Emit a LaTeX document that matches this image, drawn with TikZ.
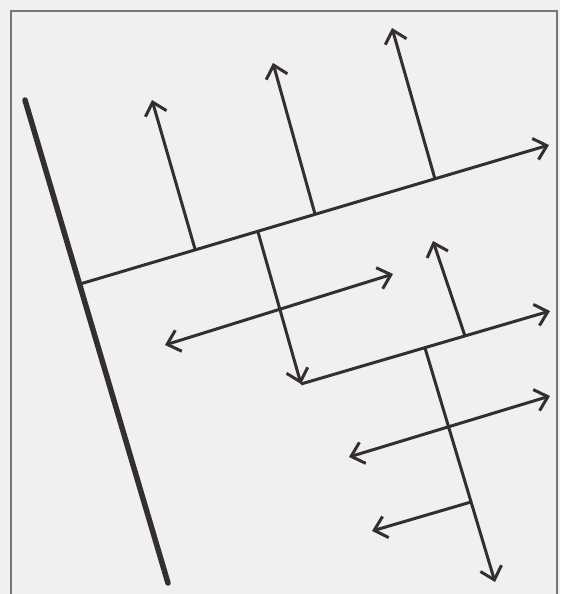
\documentclass[tikz,border=0pt]{standalone}
\usetikzlibrary{arrows.meta}
\definecolor{ink}{RGB}{52,47,45}
\definecolor{paper}{RGB}{240,240,242}
\definecolor{frame}{RGB}{118,118,118}

\begin{document}
\begin{tikzpicture}[x=1pt, y=-1pt,
  ln/.style={draw=ink, line width=3pt},
  ar/.style={ln, -{Straight Barb[length=12pt,width=22pt]}},
  da/.style={ln, {Straight Barb[length=12pt,width=22pt]}-{Straight Barb[length=12pt,width=22pt]}},
  ax/.style={draw=ink, line width=5.5pt, line cap=round}
]
\fill[paper] (0,0) rectangle (560,594);
\useasboundingbox (0,0) rectangle (560,594);
\draw[frame, line width=1.5pt] (11,594) -- (11,11) -- (557,11) -- (557,594);

% points
\coordinate (a0) at (25,100);  \coordinate (a1) at (168,583);
\coordinate (m0) at (80,284);  \coordinate (m1) at (549,145);
\coordinate (b1) at (195,249); \coordinate (t1) at (152,100);
\coordinate (b2) at (315,214); \coordinate (t2) at (273,63);
\coordinate (b3) at (435,179); \coordinate (t3) at (392,28);
\coordinate (d0) at (258,232); \coordinate (d1) at (301,384);
\coordinate (n1) at (550,311);
\coordinate (u0) at (465,336); \coordinate (u1) at (433,241);
\coordinate (v0) at (425,348); \coordinate (v1) at (495,582);
\coordinate (p0) at (349,457); \coordinate (p1) at (550,396);
\coordinate (q0) at (471,502); \coordinate (q1) at (372,531);
\coordinate (r0) at (165,345); \coordinate (r1) at (393,274);

% axis and main branch
\draw[ax] (a0) -- (a1);
\draw[ar] (m0) -- (m1);
\draw[ar] (b1) -- (t1);
\draw[ar] (b2) -- (t2);
\draw[ar] (b3) -- (t3);
\draw[ar] (d0) -- (d1);
\draw[da] (r0) -- (r1);

% lower branch
\draw[ar] (d1) -- (n1);
\draw[ar] (u0) -- (u1);
\draw[ar] (v0) -- (v1);
\draw[da] (p0) -- (p1);
\draw[ar] (q0) -- (q1);
\end{tikzpicture}
\end{document}
